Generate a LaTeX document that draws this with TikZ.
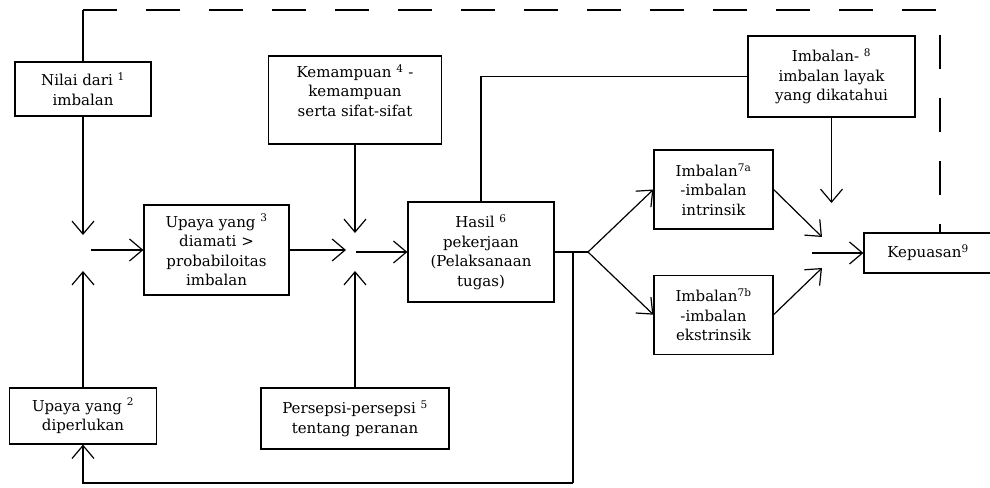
\documentclass[tikz,border=0pt]{standalone}
\usepackage{fontspec}
\setmainfont{DejaVu Serif}
\usepackage{tikz}
\usetikzlibrary{positioning,arrows.meta,calc}
\tikzstyle{box} = [rectangle, draw, line width=1.2pt, align=center, %
   inner sep=2pt, font=\fontsize{15}{19.5}\selectfont]
\tikzstyle{line} = [draw, line width=1.2pt, %
   -{Straight Barb[length=13pt,width=22pt,line width=1.2pt]}]
\tikzstyle{wire} = [draw, line width=1.2pt]
\tikzstyle{feedback} = [draw, line width=1.2pt, dash pattern=on 34pt off 29pt]

\begin{document}
\begin{tikzpicture}[x=1pt,y=-1pt]
   \useasboundingbox (0,0) rectangle (990,487);
   % Place nodes

% Left column %%%%%%%%%%%%%%%%%%%%%%%%%%%%%%%%%%%%%%%%%%%%%%%%%%%%%%%%%
   \node[box, minimum width=136pt, minimum height=54pt] (nilai) at (83,89){%
      Nilai dari \textsuperscript{1}\\imbalan};

   \node[box, minimum width=147pt, minimum height=56pt] (perlu) at (83,416){%
      Upaya yang \textsuperscript{2}\\diperlukan};

   \node[box, minimum width=145pt, minimum height=90pt] (amati) at (216.5,250){%
      Upaya yang \textsuperscript{3}\\diamati >\\probabiloitas\\imbalan};

% Middle column %%%%%%%%%%%%%%%%%%%%%%%%%%%%%%%%%%%%%%%%%%%%%%%%%%%%%%%
   \node[box, minimum width=173pt, minimum height=88pt] (kemampuan) at (355,100){%
      Kemampuan \textsuperscript{4} -\\kemampuan\\serta sifat-sifat\\~};

   \node[box, minimum width=188pt, minimum height=61pt] (persepsi) at (355,418.5){%
      Persepsi-persepsi \textsuperscript{5}\\tentang peranan};

   \node[box, minimum width=146pt, minimum height=100pt] (hasil) at (481,252){%
      Hasil \textsuperscript{6}\\pekerjaan\\(Pelaksanaan\\tugas)};

% Rewards %%%%%%%%%%%%%%%%%%%%%%%%%%%%%%%%%%%%%%%%%%%%%%%%%%%%%%%%%%%%%
   \node[box, minimum width=119pt, minimum height=79pt] (intrinsik) at (713.5,189.5){%
      Imbalan\textsuperscript{7a}\\-imbalan\\intrinsik};

   \node[box, below=45pt of intrinsik, minimum width=119pt, minimum height=79pt](ekstrinsik){%
      Imbalan\textsuperscript{7b}\\-imbalan\\ekstrinsik};

   \node[box, minimum width=167pt, minimum height=81pt] (layak) at (831.5,76.5){%
      Imbalan- \textsuperscript{8}\\imbalan layak\\yang dikatahui};

   \node[box, minimum width=128pt, minimum height=40pt] (kepuasan) at (928,253){%
      Kepuasan\textsuperscript{9}};

% Junction points %%%%%%%%%%%%%%%%%%%%%%%%%%%%%%%%%%%%%%%%%%%%%%%%%%%%%
   \coordinate (jlN) at (83,235);
   \coordinate (jlS) at (83,271);
   \coordinate (jlE) at (91,250);
   \coordinate (jmN) at (355,233);
   \coordinate (jmS) at (355,271);
   \coordinate (jmW) at (346,250);
   \coordinate (jmE) at (356,252);
   \coordinate (split) at (588,252);
   \coordinate (jrN) at (831.5,203);
   \coordinate (jrA) at (822,237);
   \coordinate (jrB) at (822,268);
   \coordinate (jrW) at (812,253);
   \coordinate (fbtop) at (573,252);
   \coordinate (fbcorner) at (573,483);
   \coordinate (topL) at (83,10);
   \coordinate (topR) at (940,10);

   % Draw edges
   % Left junction
   \path [line] (nilai.south) -- (jlN);
   \path [line] (perlu.north) -- (jlS);
   \path [line] (jlE) -- (amati.west);

   % Middle junction
   \path [line] (kemampuan.south) -- (jmN);
   \path [line] (persepsi.north) -- (jmS);
   \path [line] (amati.east) -- (jmW);
   \path [line] (jmE) -- (hasil.west);

   % Performance to rewards
   \path [wire] (hasil.north) |- (layak.west);
   \path [wire] (hasil.east) -- (split);
   \path [line] (split) -- (intrinsik.west);
   \path [line] (split) -- (ekstrinsik.west);

   % Rewards to satisfaction
   \path [line] (layak.south) -- (jrN);
   \path [line] (intrinsik.east) -- (jrA);
   \path [line] (ekstrinsik.east) -- (jrB);
   \path [line] (jrW) -- (kepuasan.west);

   % Feedback: performance to effort
   \path [wire] (fbtop) -- (fbcorner);
   \path [line] (fbcorner) -| (perlu.south);

   % Feedback: satisfaction to value
   \path [wire] (nilai.north) -- (topL);
   \path [feedback] (topL) -- (topR) -- (topR |- kepuasan.north);

\end{tikzpicture}
\end{document}
